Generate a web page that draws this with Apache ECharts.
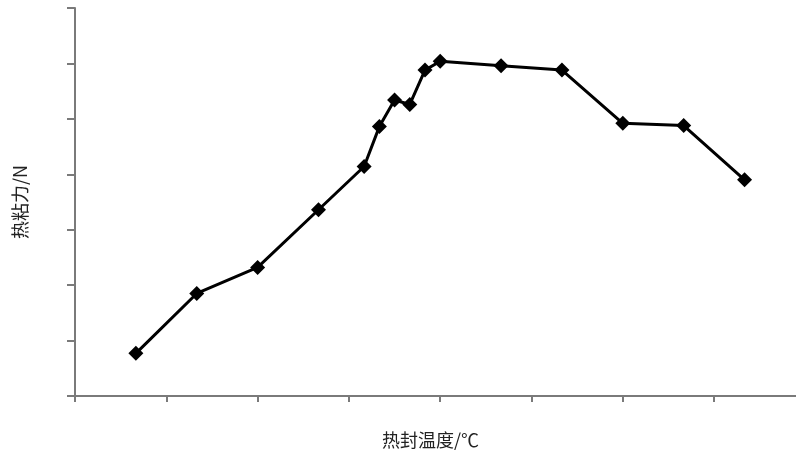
<!DOCTYPE html>
<html>
<head>
<meta charset="utf-8">
<script src="https://cdn.jsdelivr.net/npm/echarts@6/dist/echarts.min.js"></script>
<style>html,body{margin:0;padding:0;background:#fff;}#c{width:796px;height:457px;}</style>
</head>
<body>
<div id="c"></div>
<script>
// heat-seal temperature (°C) and hot-tack force (N); tick labels in the source are illegible
const temperatures = [100, 110, 120, 130, 137.5, 140, 142.5, 145, 147.5, 150, 160, 170, 180, 190, 200];
const hotTack = [0.385, 0.925, 1.16, 1.68, 2.07, 2.43, 2.67, 2.63, 2.94, 3.02, 2.98, 2.94, 2.46, 2.44, 1.95];
const xTicks = [90, 105, 120, 135, 150, 165, 180, 195];
const xName = '热封温度/℃';
const yName = '热粘力/N';

const chart = echarts.init(document.getElementById('c'), null, {renderer: 'canvas'});
chart.setOption({
  animation: false,
  backgroundColor: '#fff',
  grid: {left: 75, right: 0, top: 8, bottom: 61, containLabel: false},
  xAxis: {
    type: 'value', min: 90, max: 208.45, interval: 15,
    name: xName, nameLocation: 'middle', nameGap: 35,
    nameTextStyle: {fontFamily: 'Noto Sans CJK SC', fontSize: 18, color: '#222', padding: [0, 10, 0, 0]},
    axisLine: {lineStyle: {color: '#7a7a7a', width: 2}},
    axisTick: {show: true, inside: false, length: 6, customValues: xTicks, lineStyle: {color: '#7a7a7a', width: 2}},
    axisLabel: {show: false},
    splitLine: {show: false}
  },
  yAxis: {
    type: 'value', min: 0, max: 3.5, interval: 0.5,
    name: yName, nameLocation: 'middle', nameGap: 46,
    nameTextStyle: {fontFamily: 'Noto Sans CJK SC', fontSize: 18, color: '#222'},
    axisLine: {show: true, lineStyle: {color: '#7a7a7a', width: 2}},
    axisTick: {show: true, inside: false, length: 8, lineStyle: {color: '#7a7a7a', width: 2}},
    axisLabel: {show: false},
    splitLine: {show: false}
  },
  series: [{
    type: 'line',
    data: temperatures.map((t, i) => [t, hotTack[i]]),
    symbol: 'diamond', symbolSize: 15, showAllSymbol: true,
    lineStyle: {color: '#000', width: 3},
    itemStyle: {color: '#000'}
  }]
});
</script>
</body>
</html>
